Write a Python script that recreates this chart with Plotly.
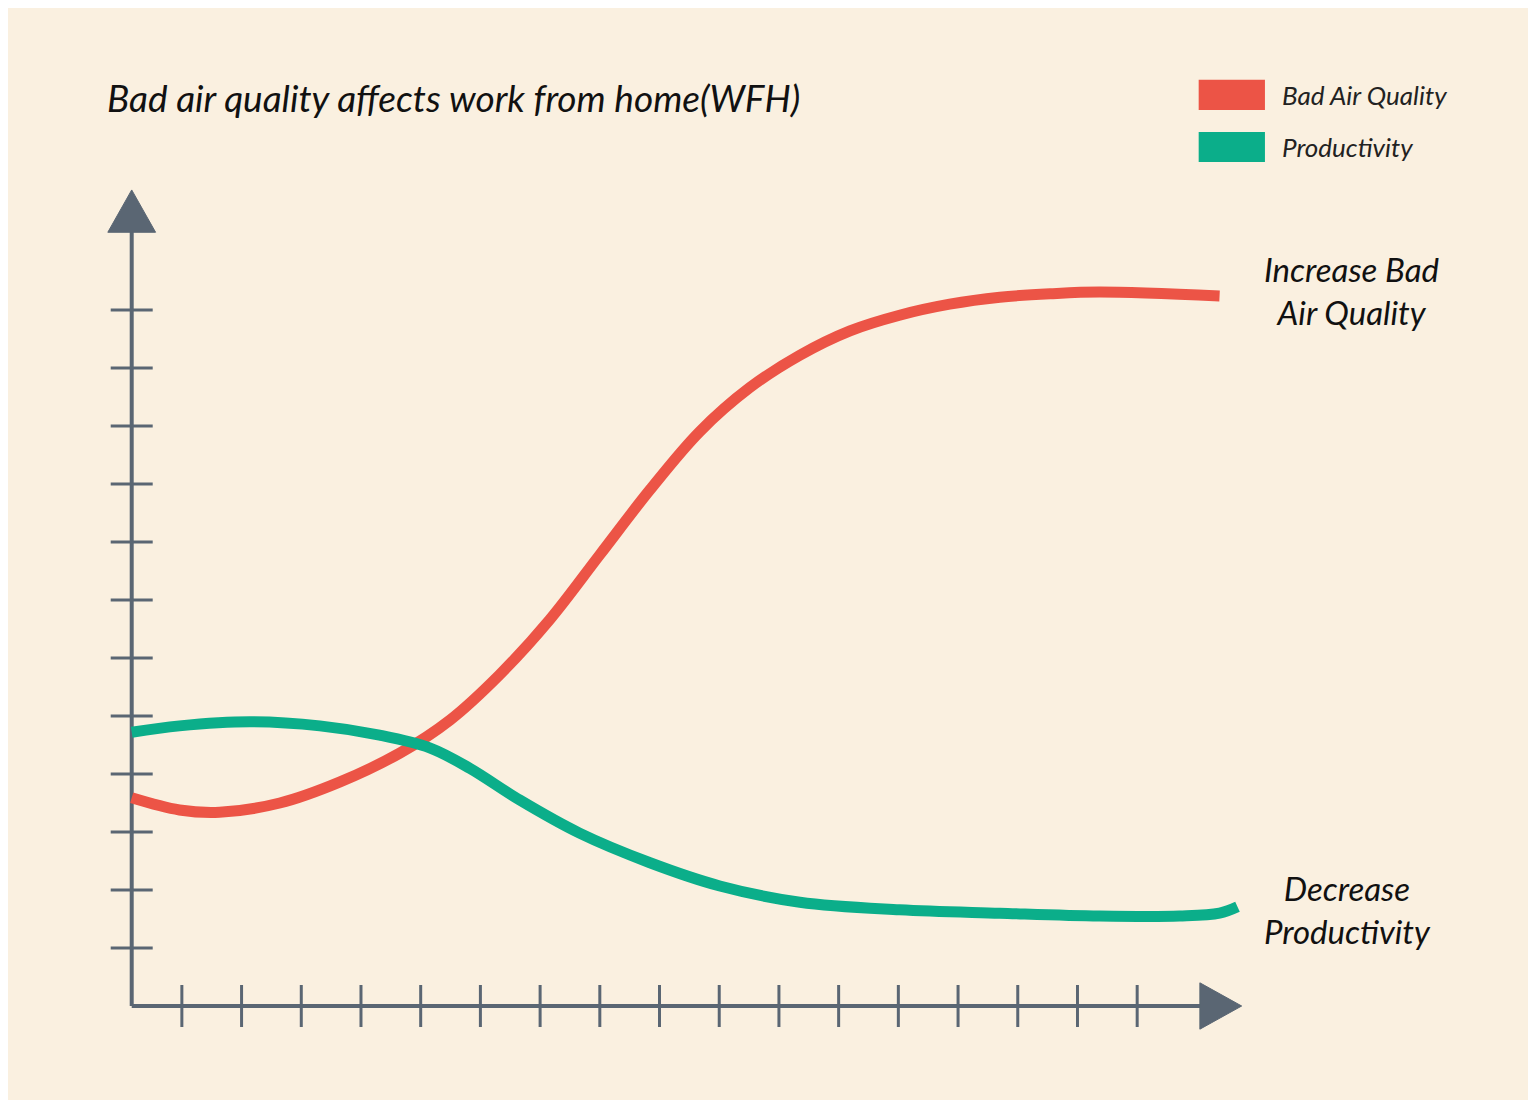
import plotly.graph_objects as go

# data in axis units (x: one tick step, y: one tick step)
red_x = [0, 0.80, 1.47, 2.48, 3.48, 4.49, 5.33, 6.16, 7.00, 7.84, 8.68, 9.51,
         10.35, 11.19, 12.03, 12.86, 13.70, 14.54, 15.38, 16.21, 18.22]
red_y = [3.59, 3.38, 3.34, 3.50, 3.86, 4.36, 4.93, 5.71, 6.66, 7.78, 8.90, 9.90,
         10.66, 11.22, 11.64, 11.91, 12.10, 12.22, 12.28, 12.31, 12.24]

green_x = [0, 0.80, 1.98, 3.15, 4.15, 4.99, 5.66, 6.50, 7.50, 8.68, 9.85,
           11.19, 12.86, 14.54, 16.21, 17.55, 18.22, 18.52]
green_y = [4.72, 4.83, 4.90, 4.83, 4.67, 4.45, 4.10, 3.55, 2.98, 2.47, 2.07,
           1.79, 1.66, 1.60, 1.55, 1.55, 1.60, 1.71]

x_ticks = [0.84 + i for i in range(17)]
y_ticks = [1 + i for i in range(12)]

RED = "#EC5446"
GREEN = "#0BAE8A"
AXIS = "#5A6673"
BG = "#FAF0E0"
FONT = "Lato"

X_RANGE = [-1, 19.5]
Y_RANGE = [-1, 14.5]


def px_(x):
    return (x - X_RANGE[0]) / (X_RANGE[1] - X_RANGE[0])


def py_(y):
    return (y - Y_RANGE[0]) / (Y_RANGE[1] - Y_RANGE[0])


fig = go.Figure()

# axis lines
fig.add_trace(go.Scatter(x=[0, 0], y=[0, 13.4], mode="lines",
                         line=dict(color=AXIS, width=4), hoverinfo="skip"))
fig.add_trace(go.Scatter(x=[0, 17.95], y=[0, 0], mode="lines",
                         line=dict(color=AXIS, width=4), hoverinfo="skip"))
# arrow heads
fig.add_trace(go.Scatter(x=[-0.40, 0, 0.40, -0.40], y=[13.34, 14.07, 13.34, 13.34],
                         fill="toself", fillcolor=AXIS, mode="lines",
                         line=dict(color=AXIS, width=1), hoverinfo="skip"))
fig.add_trace(go.Scatter(x=[17.89, 18.59, 17.89, 17.89], y=[0.40, 0, -0.40, 0.40],
                         fill="toself", fillcolor=AXIS, mode="lines",
                         line=dict(color=AXIS, width=1), hoverinfo="skip"))
# tick marks crossing the axes
fig.add_trace(go.Scatter(x=x_ticks, y=[0] * len(x_ticks), mode="markers",
                         marker=dict(symbol="line-ns", size=30,
                                     line=dict(color=AXIS, width=3)),
                         hoverinfo="skip"))
fig.add_trace(go.Scatter(x=[0] * len(y_ticks), y=y_ticks, mode="markers",
                         marker=dict(symbol="line-ew", size=30,
                                     line=dict(color=AXIS, width=3)),
                         hoverinfo="skip"))

# curves
fig.add_trace(go.Scatter(x=red_x, y=red_y, mode="lines", name="Bad Air Quality",
                         line=dict(color=RED, width=11, shape="spline")))
fig.add_trace(go.Scatter(x=green_x, y=green_y, mode="lines", name="Productivity",
                         line=dict(color=GREEN, width=11, shape="spline")))

# legend drawn by hand
fig.add_shape(type="rect", xref="paper", yref="paper",
              x0=px_(17.87), x1=px_(18.98), y0=py_(15.45), y1=py_(15.97),
              fillcolor=RED, line_width=0)
fig.add_shape(type="rect", xref="paper", yref="paper",
              x0=px_(17.87), x1=px_(18.98), y0=py_(14.55), y1=py_(15.07),
              fillcolor=GREEN, line_width=0)

ann = [
    dict(x=-0.45, y=15.67, text="<i>Bad air quality affects work from home(WFH)</i>",
         xanchor="left", font=dict(size=37, color="#111111")),
    dict(x=19.23, y=15.71, text="<i>Bad Air Quality</i>", xanchor="left",
         font=dict(size=26, color="#222222")),
    dict(x=19.23, y=14.81, text="<i>Productivity</i>", xanchor="left",
         font=dict(size=26, color="#222222")),
    dict(x=20.44, y=12.34, text="<i>Increase Bad<br>Air Quality</i>", xanchor="center",
         font=dict(size=33, color="#111111")),
    dict(x=20.37, y=1.66, text="<i>Decrease<br>Productivity</i>", xanchor="center",
         font=dict(size=33, color="#111111")),
]
for a in ann:
    a["font"]["family"] = FONT
    a["x"] = px_(a["x"])
    a["y"] = py_(a["y"])
    fig.add_annotation(showarrow=False, xref="paper", yref="paper",
                       yanchor="middle", **a)

fig.update_layout(
    width=1520, height=1092,
    paper_bgcolor=BG, plot_bgcolor=BG,
    showlegend=False,
    margin=dict(l=64, r=232, t=157, b=36),
    xaxis=dict(range=X_RANGE, visible=False),
    yaxis=dict(range=Y_RANGE, visible=False),
)
fig.update_traces(cliponaxis=False)

fig.write_html("out.html")
